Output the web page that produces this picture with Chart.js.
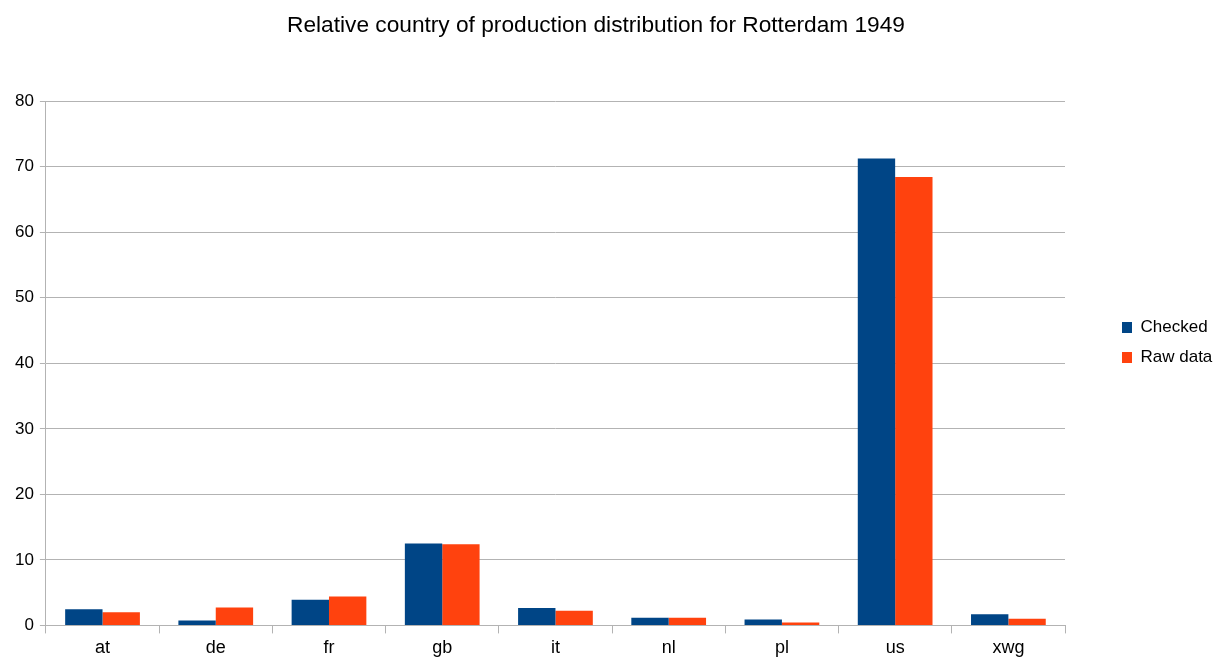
<!DOCTYPE html>
<html>
<head>
<meta charset="utf-8">
<script src="https://cdn.jsdelivr.net/npm/chart.js@4/dist/chart.umd.min.js"></script>
<style>
  html, body { margin: 0; padding: 0; background: #fff; }
  #wrap { width: 1222px; height: 663px; }
</style>
</head>
<body>
<div id="wrap"><canvas id="chart"></canvas></div>
<script>
// Data
const countries = ['at', 'de', 'fr', 'gb', 'it', 'nl', 'pl', 'us', 'xwg'];
const checked = [2.45, 0.75, 3.9, 12.5, 2.65, 1.15, 0.9, 71.25, 1.7];
const rawData = [2.0, 2.75, 4.4, 12.4, 2.25, 1.15, 0.45, 68.45, 1.0];
const yTicks = [0, 10, 20, 30, 40, 50, 60, 70, 80];

const fontFamily = '"Liberation Sans", Arial, sans-serif';
const gridColor = '#b3b3b3';

// Legend sits in a fixed-width strip on the right, drawn a bit away from the plot
const legendWidth = 118;
const legendShiftX = 44;
const legendShiftY = 11;

const legendStrip = {
    id: 'legendStrip',
    beforeLayout(chart) {
        const lg = chart.legend;
        if (!lg || lg._stripWrapped) return;
        const fit = lg.fit.bind(lg);
        lg.fit = function () {
            fit();
            this.width = legendWidth;
        };
        lg.draw = function () {
            const ctx = this.ctx;
            ctx.save();
            ctx.translate(legendShiftX, legendShiftY);
            this._draw();
            ctx.restore();
        };
        lg._stripWrapped = true;
    }
};

new Chart(document.getElementById('chart'), {
    type: 'bar',
    data: {
        labels: countries,
        datasets: [
            {
                label: 'Checked',
                data: checked,
                backgroundColor: '#004586',
                categoryPercentage: 0.66,
                barPercentage: 1.0
            },
            {
                label: 'Raw data',
                data: rawData,
                backgroundColor: '#ff420e',
                categoryPercentage: 0.66,
                barPercentage: 1.0
            }
        ]
    },
    plugins: [legendStrip],
    options: {
        responsive: true,
        maintainAspectRatio: false,
        animation: false,
        layout: {
            padding: { left: 9, right: 39, top: 0, bottom: 0 }
        },
        plugins: {
            title: {
                display: true,
                text: 'Relative country of production distribution for Rotterdam 1949',
                color: '#000',
                font: { family: fontFamily, size: 22.7, weight: 'normal' },
                padding: { top: 12, bottom: 62 }
            },
            legend: {
                position: 'right',
                labels: {
                    color: '#000',
                    font: { family: fontFamily, size: 17 },
                    boxWidth: 10,
                    boxHeight: 11,
                    padding: 13
                }
            },
            tooltip: { enabled: false }
        },
        scales: {
            x: {
                offset: true,
                grid: {
                    display: true,
                    offset: true,
                    drawOnChartArea: false,
                    drawTicks: true,
                    tickLength: 8,
                    color: gridColor
                },
                border: { color: gridColor, width: 1 },
                ticks: {
                    color: '#000',
                    font: { family: fontFamily, size: 18 },
                    padding: 4
                }
            },
            y: {
                min: 0,
                max: 80,
                afterBuildTicks: axis => {
                    axis.ticks = yTicks.map(v => ({ value: v }));
                },
                grid: {
                    color: gridColor,
                    tickLength: 6
                },
                border: { color: gridColor, width: 1 },
                ticks: {
                    color: '#000',
                    font: { family: fontFamily, size: 17 },
                    padding: 6
                }
            }
        }
    }
});
</script>
</body>
</html>
